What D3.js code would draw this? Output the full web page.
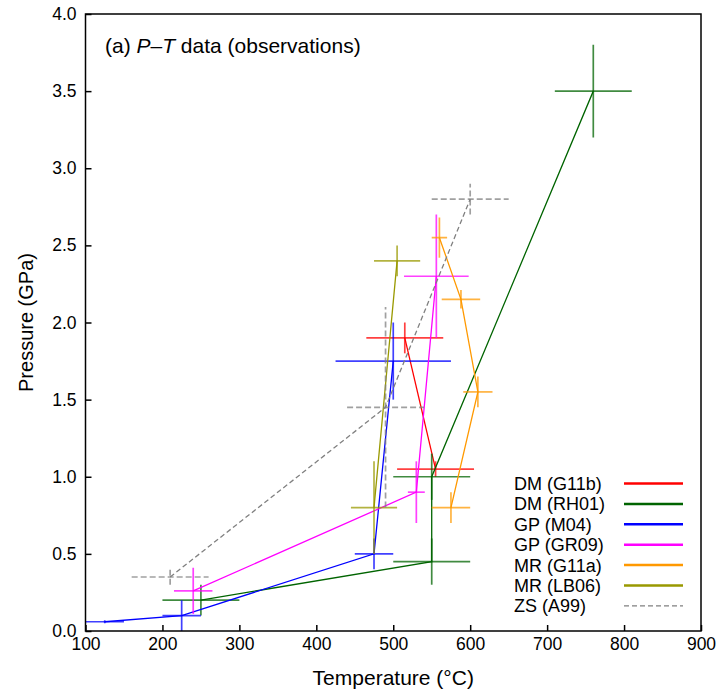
<!DOCTYPE html>
<html>
<head>
<meta charset="utf-8">
<script src="https://cdn.jsdelivr.net/npm/d3@7"></script>
<style>
  body { margin: 0; background: #fff; }
  svg { font-family: "Liberation Sans", Arial, Helvetica, sans-serif; }
</style>
</head>
<body>
<div class="displayArea"></div>
<script>
// data: T (deg C), P (GPa) and their error half-widths
var seriesNames = ["DM (G11b)", "DM (RH01)", "GP (M04)", "GP (GR09)", "MR (G11a)", "MR (LB06)", "ZS (A99)"];
var seriesColors = ["#ff0000", "#006400", "#0000ff", "#ff00ff", "#ff9900", "#999900", "#808080"];

var dmG11bT = [515, 555], dmG11bP = [1.9, 1.05];
var dmG11bTerr = [50, 50], dmG11bPerr = [0.1, 0.05];

var dmRH01T = [250, 550, 550, 760], dmRH01P = [0.2, 0.45, 1.0, 3.5];
var dmRH01Terr = [50, 50, 50, 50], dmRH01Perr = [0.1, 0.15, 0.15, 0.3];

var gpM04T = [125, 225, 475, 500], gpM04P = [0.06, 0.1, 0.5, 1.75];
var gpM04Terr = [25, 25, 25, 75], gpM04Perr = [0.01, 0.1, 0.1, 0.25];

var gpGR09T = [240, 530, 556], gpGR09P = [0.26, 0.9, 2.3];
var gpGR09Terr = [25, 11, 42], gpGR09Perr = [0.15, 0.2, 0.4];

var mrG11aT = [575, 610, 588, 560], mrG11aP = [0.8, 1.55, 2.15, 2.55];
var mrG11aTerr = [25, 19, 25, 10], mrG11aPerr = [0.1, 0.1, 0.06, 0.13];

var mrLB06T = [475, 505], mrLB06P = [0.8, 2.4];
var mrLB06Terr = [30, 30], mrLB06Perr = [0.3, 0.1];

var zsA99T = [210, 490, 600], zsA99P = [0.35, 1.45, 2.8];
var zsA99Terr = [50, 50, 50], zsA99Perr = [0.05, 0.65, 0.1];

var xTicks = [100, 200, 300, 400, 500, 600, 700, 800, 900];
var yTicks = [0, 0.5, 1.0, 1.5, 2.0, 2.5, 3.0, 3.5, 4.0];

var seriesT = [dmG11bT, dmRH01T, gpM04T, gpGR09T, mrG11aT, mrLB06T, zsA99T],
    seriesP = [dmG11bP, dmRH01P, gpM04P, gpGR09P, mrG11aP, mrLB06P, zsA99P],
    seriesTerr = [dmG11bTerr, dmRH01Terr, gpM04Terr, gpGR09Terr, mrG11aTerr, mrLB06Terr, zsA99Terr],
    seriesPerr = [dmG11bPerr, dmRH01Perr, gpM04Perr, gpGR09Perr, mrG11aPerr, mrLB06Perr, zsA99Perr];

var series = seriesNames.map(function (name, k) {
    return {
        name: name,
        color: seriesColors[k],
        dashed: name == "ZS (A99)",
        points: seriesT[k].map(function (t, i) {
            return { t: t, p: seriesP[k][i], te: seriesTerr[k][i], pe: seriesPerr[k][i] };
        })
    };
});

var width = 720, height = 694;
var plotLeft = 85.5, plotRight = 701, plotTop = 14, plotBottom = 631; // plot box edges

var xScale = d3.scaleLinear().domain([100, 900]).range([plotLeft, plotRight]);
var yScale = d3.scaleLinear().domain([0, 4]).range([plotBottom, plotTop]);

var svg = d3.select(".displayArea").append("svg")
    .attr("width", width)
    .attr("height", height);

svg.append("defs").append("clipPath").attr("id", "plotClip")
    .append("rect")
    .attr("x", plotLeft).attr("y", plotTop)
    .attr("width", plotRight - plotLeft).attr("height", plotBottom - plotTop);

var plot = svg.append("g").attr("clip-path", "url(#plotClip)");

var line = d3.line()
    .x(function (d) { return xScale(d.t); })
    .y(function (d) { return yScale(d.p); });

series.forEach(function (s) {
    var g = plot.append("g");
    // error bars
    s.points.forEach(function (d) {
        g.append("line")
            .attr("x1", xScale(d.t - d.te)).attr("x2", xScale(d.t + d.te))
            .attr("y1", yScale(d.p)).attr("y2", yScale(d.p));
        g.append("line")
            .attr("x1", xScale(d.t)).attr("x2", xScale(d.t))
            .attr("y1", yScale(d.p - d.pe)).attr("y2", yScale(d.p + d.pe));
    });
    g.selectAll("line")
        .attr("stroke", s.color)
        .attr("stroke-width", 1.7)
        .attr("stroke-opacity", 0.75)
        .attr("stroke-dasharray", s.dashed ? "6,3" : null);
    // connecting path
    g.append("path")
        .datum(s.points)
        .attr("d", line)
        .attr("fill", "none")
        .attr("stroke", s.color)
        .attr("stroke-width", 1.3)
        .attr("stroke-dasharray", s.dashed ? "5,3" : null);
});

// frame
svg.append("rect")
    .attr("x", plotLeft).attr("y", plotTop)
    .attr("width", plotRight - plotLeft).attr("height", plotBottom - plotTop)
    .attr("fill", "none")
    .attr("stroke", "#000")
    .attr("stroke-width", 1.5);

var xAxis = d3.axisBottom(xScale)
    .tickValues(xTicks)
    .tickFormat(d3.format("d"))
    .tickSizeInner(-6)
    .tickSizeOuter(0)
    .tickPadding(7);

var yAxis = d3.axisLeft(yScale)
    .tickValues(yTicks)
    .tickFormat(d3.format(".1f"))
    .tickSizeInner(-6)
    .tickSizeOuter(0)
    .tickPadding(9);

var gx = svg.append("g")
    .attr("transform", "translate(0," + plotBottom + ")")
    .call(xAxis);
var gy = svg.append("g")
    .attr("transform", "translate(" + plotLeft + ",0)")
    .call(yAxis);

[gx, gy].forEach(function (a) {
    a.select(".domain").remove();
    a.selectAll(".tick line").attr("stroke", "#000").attr("stroke-width", 1.5);
    a.selectAll(".tick text")
        .attr("fill", "#000")
        .style("font-size", "17.5px")
        .style("font-family", "'Liberation Sans', Arial, sans-serif");
});

// axis titles
svg.append("text")
    .attr("x", (plotLeft + plotRight) / 2)
    .attr("y", 685)
    .attr("text-anchor", "middle")
    .style("font-size", "21px")
    .text("Temperature (°C)");

svg.append("text")
    .attr("transform", "translate(33," + (plotTop + plotBottom) / 2 + ") rotate(-90)")
    .attr("text-anchor", "middle")
    .style("font-size", "20px")
    .text("Pressure (GPa)");

// panel title
var title = svg.append("text")
    .attr("x", 105)
    .attr("y", 53)
    .style("font-size", "21px");
title.append("tspan").text("(a) ");
title.append("tspan").style("font-style", "italic").text("P");
title.append("tspan").text("–");
title.append("tspan").style("font-style", "italic").text("T");
title.append("tspan").text(" data (observations)");

// legend
var legend = svg.append("g");
series.forEach(function (s, i) {
    var yy = 483.5 + i * 20.4;
    legend.append("text")
        .attr("x", 514)
        .attr("y", yy + 6.5)
        .style("font-size", "18px")
        .text(s.name);
    legend.append("line")
        .attr("x1", 624).attr("x2", 683)
        .attr("y1", yy).attr("y2", yy)
        .attr("stroke", s.color)
        .attr("stroke-width", s.dashed ? 1.3 : 2.5)
        .attr("stroke-dasharray", s.dashed ? "5,3" : null);
});
</script>
</body>
</html>
